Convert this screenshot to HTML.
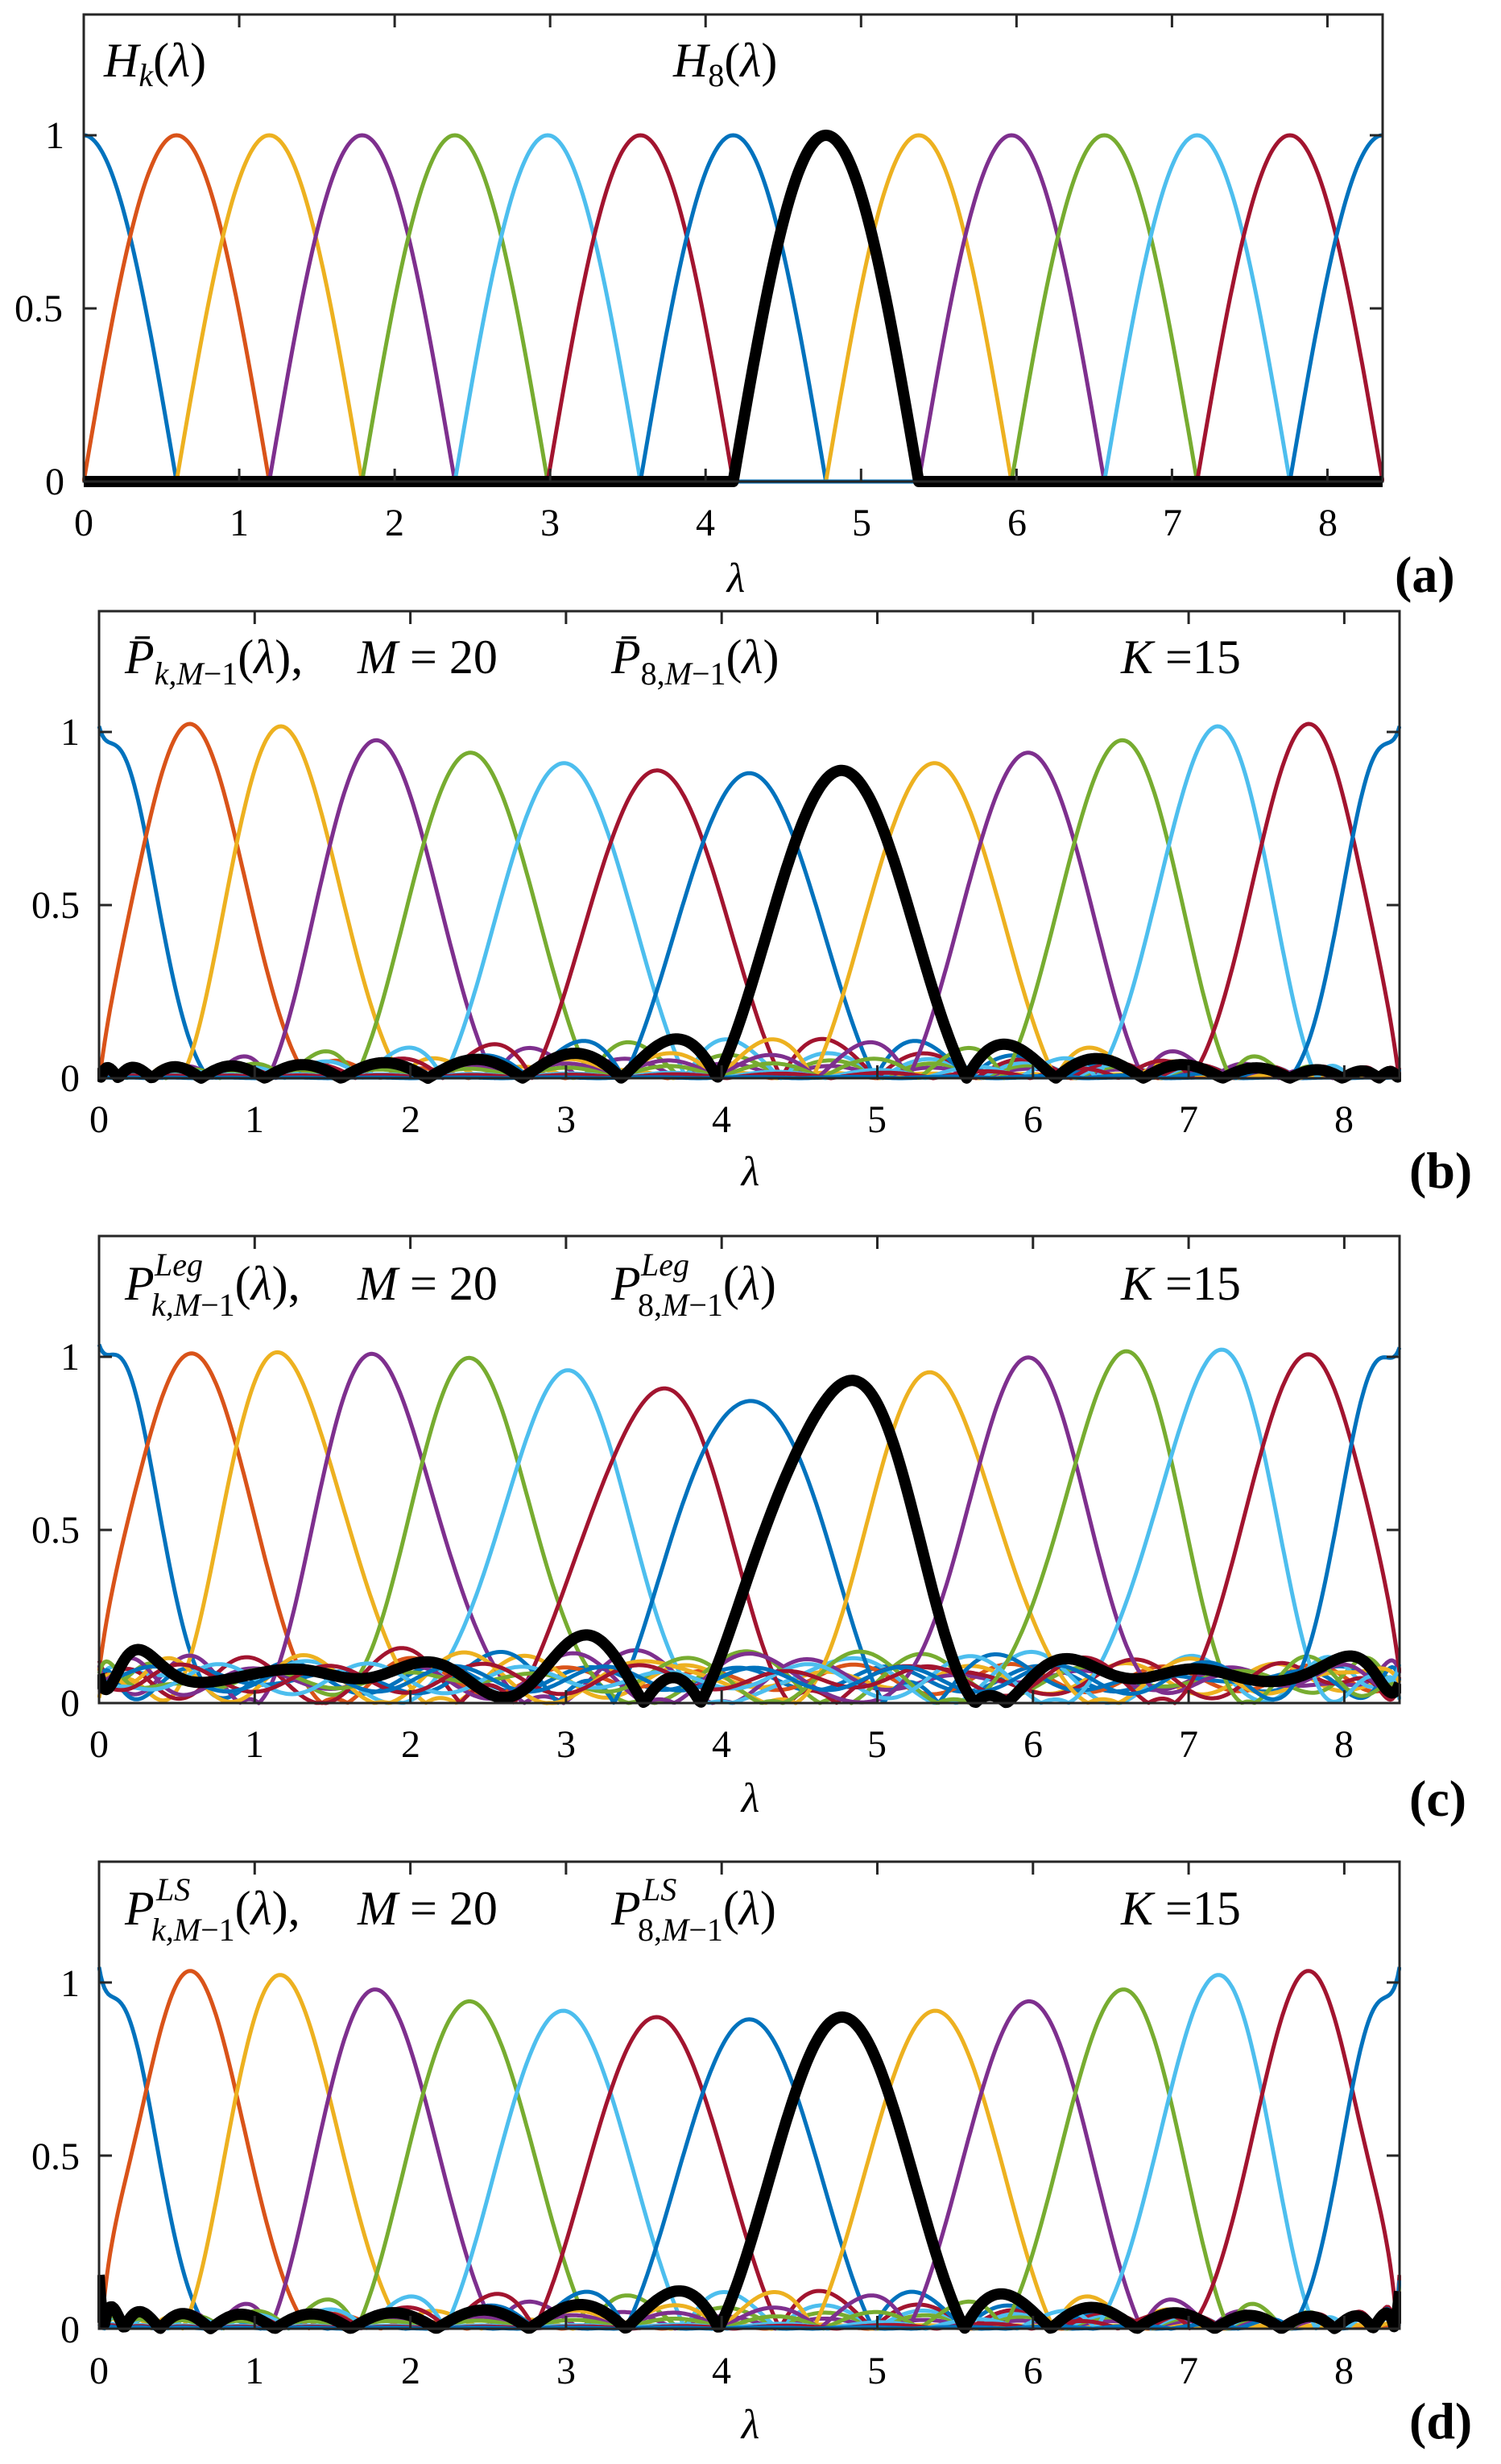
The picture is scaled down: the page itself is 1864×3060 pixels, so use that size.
<!DOCTYPE html>
<html><head><meta charset="utf-8"><style>
html,body{margin:0;padding:0;background:#fff;}
svg{display:block;}
text{font-family:"Liberation Serif",serif;fill:#000;}
.t{font-size:48px;}
.lab{font-size:52px;font-style:italic;}
.an{font-size:60px;}
.pl{font-size:64px;font-weight:bold;}
</style></head><body>
<svg id="s" width="1864" height="3060" viewBox="0 0 1864 3060" xmlns="http://www.w3.org/2000/svg">
<rect width="1864" height="3060" fill="#fff"/>
<g id="curves"></g>
<g id="frames"></g>

<!-- Panel a text -->
<g class="t" text-anchor="middle">
<text x="104" y="665">0</text><text x="297" y="665">1</text><text x="490" y="665">2</text><text x="683" y="665">3</text><text x="876" y="665">4</text><text x="1070" y="665">5</text><text x="1263" y="665">6</text><text x="1456" y="665">7</text><text x="1649" y="665">8</text>
</g>
<g class="t" text-anchor="end">
<text x="80" y="614">0</text><text x="78" y="399">0.5</text><text x="80" y="184">1</text>
</g>
<text class="lab" x="914" y="735" text-anchor="middle">λ</text>
<text class="pl" x="1732" y="735">(a)</text>
<text class="an" x="129" y="95"><tspan font-style="italic">H</tspan><tspan font-style="italic" font-size="40" dy="12">k</tspan><tspan dy="-12">(</tspan><tspan font-style="italic">λ</tspan><tspan>)</tspan></text>
<text class="an" x="836" y="95"><tspan font-style="italic">H</tspan><tspan font-size="40" dy="12">8</tspan><tspan dy="-12">(</tspan><tspan font-style="italic">λ</tspan><tspan>)</tspan></text>

<!-- Panel b text -->
<g class="t" text-anchor="middle">
<text x="123" y="1406">0</text><text x="316" y="1406">1</text><text x="510" y="1406">2</text><text x="703" y="1406">3</text><text x="896" y="1406">4</text><text x="1089" y="1406">5</text><text x="1283" y="1406">6</text><text x="1476" y="1406">7</text><text x="1669" y="1406">8</text>
</g>
<g class="t" text-anchor="end">
<text x="99" y="1355">0</text><text x="99" y="1140">0.5</text><text x="99" y="925">1</text>
</g>
<text class="lab" x="932" y="1472" text-anchor="middle">λ</text>
<text class="pl" x="1750" y="1475">(b)</text>
<text class="an" x="155" y="836"><tspan font-style="italic">P̄</tspan><tspan font-style="italic" font-size="40" dy="14">k,M</tspan><tspan font-size="40">−1</tspan><tspan dy="-14">(</tspan><tspan font-style="italic">λ</tspan><tspan>),</tspan></text>
<text class="an" x="444" y="836"><tspan font-style="italic">M</tspan><tspan> = 20</tspan></text>
<text class="an" x="759" y="836"><tspan font-style="italic">P̄</tspan><tspan font-size="40" dy="14">8,</tspan><tspan font-style="italic" font-size="40">M</tspan><tspan font-size="40">−1</tspan><tspan dy="-14">(</tspan><tspan font-style="italic">λ</tspan><tspan>)</tspan></text>
<text class="an" x="1392" y="836"><tspan font-style="italic">K</tspan><tspan> =15</tspan></text>

<!-- Panel c text -->
<g class="t" text-anchor="middle">
<text x="123" y="2182">0</text><text x="316" y="2182">1</text><text x="510" y="2182">2</text><text x="703" y="2182">3</text><text x="896" y="2182">4</text><text x="1089" y="2182">5</text><text x="1283" y="2182">6</text><text x="1476" y="2182">7</text><text x="1669" y="2182">8</text>
</g>
<g class="t" text-anchor="end">
<text x="99" y="2131">0</text><text x="99" y="1916">0.5</text><text x="99" y="1701">1</text>
</g>
<text class="lab" x="932" y="2250" text-anchor="middle">λ</text>
<text class="pl" x="1750" y="2255">(c)</text>
<text class="an" x="155" y="1614"><tspan font-style="italic">P</tspan><tspan font-style="italic" font-size="40" x="192" y="1584">Leg</tspan><tspan font-style="italic" font-size="40" x="188" y="1634">k,M</tspan><tspan font-size="40">−1</tspan><tspan y="1614">(</tspan><tspan font-style="italic">λ</tspan><tspan>),</tspan></text>
<text class="an" x="444" y="1614"><tspan font-style="italic">M</tspan><tspan> = 20</tspan></text>
<text class="an" x="759" y="1614"><tspan font-style="italic">P</tspan><tspan font-style="italic" font-size="40" x="796" y="1584">Leg</tspan><tspan font-size="40" x="792" y="1634">8,</tspan><tspan font-style="italic" font-size="40">M</tspan><tspan font-size="40">−1</tspan><tspan y="1614">(</tspan><tspan font-style="italic">λ</tspan><tspan>)</tspan></text>
<text class="an" x="1392" y="1614"><tspan font-style="italic">K</tspan><tspan> =15</tspan></text>

<!-- Panel d text -->
<g class="t" text-anchor="middle">
<text x="123" y="2960">0</text><text x="316" y="2960">1</text><text x="510" y="2960">2</text><text x="703" y="2960">3</text><text x="896" y="2960">4</text><text x="1089" y="2960">5</text><text x="1283" y="2960">6</text><text x="1476" y="2960">7</text><text x="1669" y="2960">8</text>
</g>
<g class="t" text-anchor="end">
<text x="99" y="2909">0</text><text x="99" y="2694">0.5</text><text x="99" y="2479">1</text>
</g>
<text class="lab" x="932" y="3028" text-anchor="middle">λ</text>
<text class="pl" x="1750" y="3028">(d)</text>
<text class="an" x="155" y="2390"><tspan font-style="italic">P</tspan><tspan font-style="italic" font-size="40" x="194" y="2360">LS</tspan><tspan font-style="italic" font-size="40" x="188" y="2410">k,M</tspan><tspan font-size="40">−1</tspan><tspan y="2390">(</tspan><tspan font-style="italic">λ</tspan><tspan>),</tspan></text>
<text class="an" x="444" y="2390"><tspan font-style="italic">M</tspan><tspan> = 20</tspan></text>
<text class="an" x="759" y="2390"><tspan font-style="italic">P</tspan><tspan font-style="italic" font-size="40" x="798" y="2360">LS</tspan><tspan font-size="40" x="792" y="2410">8,</tspan><tspan font-style="italic" font-size="40">M</tspan><tspan font-size="40">−1</tspan><tspan y="2390">(</tspan><tspan font-style="italic">λ</tspan><tspan>)</tspan></text>
<text class="an" x="1392" y="2390"><tspan font-style="italic">K</tspan><tspan> =15</tspan></text>
</svg>
<script>
(function(){
var NS="http://www.w3.org/2000/svg";
var cur=document.getElementById('curves'), fr=document.getElementById('frames');
var cols=["#0072BD","#D95319","#EDB120","#7E2F8E","#77AC30","#4DBEEE","#A2142F"];
var L=8.355, D=L/14;
function H(k,x){var d=Math.abs(x-k*D);return d<D?Math.cos(Math.PI/2*d/D):0;}
function el(n,a,p){var e=document.createElementNS(NS,n);for(var i in a)e.setAttribute(i,a[i]);p.appendChild(e);return e;}
var M=20;
function chebProj(k){var c=[],N=800;for(var n=0;n<M;n++){var s=0;for(var j=0;j<N;j++){var th=Math.PI*(j+0.5)/N;var t=Math.cos(th);s+=H(k,(t+1)/2*L)*Math.cos(n*th);}c.push(s*2/N);}c[0]/=2;
 return function(x){var t=2*x/L-1,th=Math.acos(Math.max(-1,Math.min(1,t))),s=0;for(var n=0;n<M;n++)s+=c[n]*Math.cos(n*th);return s;};}
function leg(t){var P=[1,t];for(var n=1;n<M-1;n++)P.push(((2*n+1)*t*P[n]-n*P[n-1])/(n+1));return P;}
function legProj(k){var c=new Array(M).fill(0),N=2000;for(var j=0;j<N;j++){var t=-1+(j+0.5)*2/N;var f=H(k,(t+1)/2*L);var P=leg(t);for(var n=0;n<M;n++)c[n]+=f*P[n]*2/N;}
 for(var n=0;n<M;n++)c[n]*=(2*n+1)/2;
 return function(x){var t=2*x/L-1,P=leg(t),s=0;for(var n=0;n<M;n++)s+=c[n]*P[n];return s;};}
var panels=[
 {l:104,r:1717,y0:598,m:0},
 {l:123,r:1738,y0:1339,m:1},
 {l:123,r:1738,y0:2115,m:2},
 {l:123,r:1738,y0:2892,m:3}];
panels.forEach(function(p,pi){
 var top=p.y0-580;
 var cid='c'+pi;
 var cp=el('clipPath',{id:cid},cur);el('rect',{x:p.l-2,y:top,width:p.r-p.l+4,height:p.y0-top+10},cp);
 var g=el('g',{'clip-path':'url(#'+cid+')'},cur);
 function px(v){return p.l+(p.r-p.l)*v/L;}
 function py(v){return p.y0-430*v;}
 function fn(k){ if(p.m==0)return function(x){return H(k,x);};
   if(p.m==2){var f2=chebProj(k);
     if(k==8) return function(x){return Math.abs(0.97*f2(x)+0.085+0.05*Math.sin(2*Math.PI*(x-0.1)/0.95));};
     return function(x){return Math.abs(0.95*f2(x)+0.07+0.035*Math.sin(6.5*x+k*1.3));};}
   var f=p.m==1?chebProj(k):legProj(k);return function(x){return Math.abs(f(x));};}
 function path(f){var d="",N=700;for(var i=0;i<=N;i++){var x=L*i/N;var y=f(x);if(y>1.4)y=1.4;d+=(i?"L":"M")+px(x).toFixed(1)+" "+py(y).toFixed(1);}return d;}
 for(var k=0;k<15;k++){el('path',{d:path(fn(k)),fill:'none',stroke:cols[k%7],'stroke-width':5,'stroke-linejoin':'round'},g);}
 el('path',{d:path(fn(8)),fill:'none',stroke:'#000','stroke-width':14,'stroke-linejoin':'round'},g);
 el('rect',{x:p.l,y:top,width:p.r-p.l,height:p.y0-top,fill:'none',stroke:'#262626','stroke-width':3},fr);
 var d="";
 for(var v=0;v<=8;v++){var X=px(v);d+="M"+X+" "+p.y0+"v-16M"+X+" "+top+"v16";}
 [0,0.5,1].forEach(function(v){var Y=py(v);d+="M"+p.l+" "+Y+"h16M"+p.r+" "+Y+"h-16";});
 el('path',{d:d,stroke:'#262626','stroke-width':3,fill:'none'},fr);
});
})();
</script>
</body></html>
